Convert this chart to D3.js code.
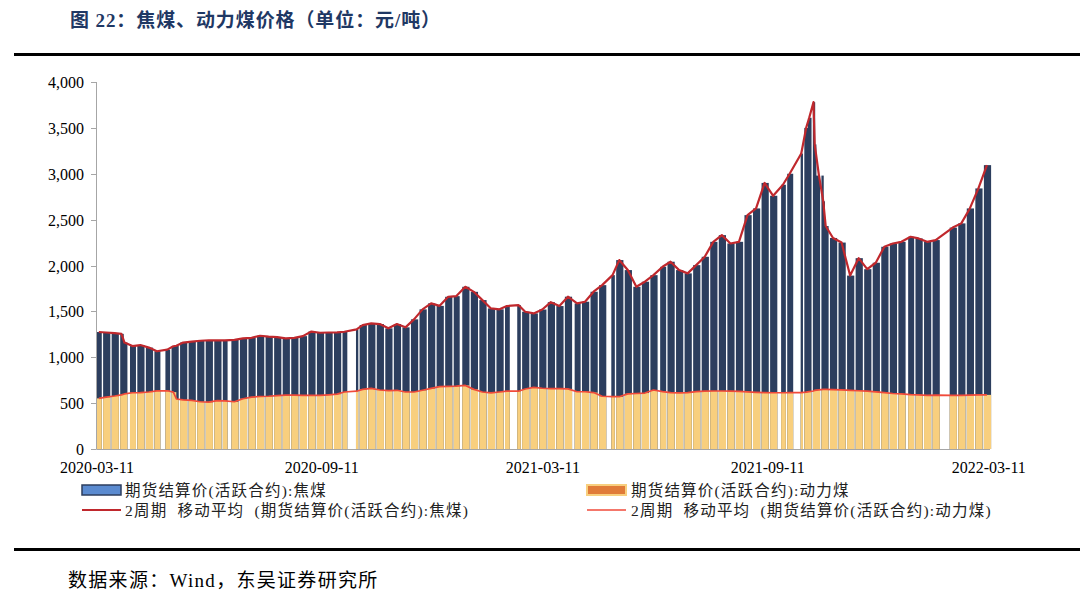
<!DOCTYPE html>
<html>
<head>
<meta charset="utf-8">
<script src="https://cdn.jsdelivr.net/npm/d3@7"></script>
<style>
  body { margin: 0; background: #fff; }
  svg { display: block; }
</style>
</head>
<body>
<svg id="chart" width="1080" height="601"></svg>
<script>
// each period runs from its start date to the day before the next start (trading days only)
const periodStart = [
  "2020-03-11","2020-03-16","2020-03-23","2020-03-30","2020-04-01","2020-04-07","2020-04-13","2020-04-20",
  "2020-04-27","2020-05-06","2020-05-11","2020-05-14","2020-05-18","2020-05-25","2020-06-01","2020-06-08",
  "2020-06-15","2020-06-22","2020-06-29","2020-07-06","2020-07-13","2020-07-20","2020-07-27","2020-08-03",
  "2020-08-10","2020-08-17","2020-08-24","2020-08-31","2020-09-07","2020-09-14","2020-09-21","2020-09-28",
  "2020-10-09","2020-10-12","2020-10-19","2020-10-26","2020-11-02","2020-11-09","2020-11-16","2020-11-23",
  "2020-11-30","2020-12-07","2020-12-14","2020-12-21","2020-12-28","2021-01-04","2021-01-11","2021-01-18",
  "2021-01-25","2021-02-01","2021-02-08","2021-02-18","2021-02-22","2021-03-01","2021-03-08","2021-03-15",
  "2021-03-22","2021-03-29","2021-04-06","2021-04-12","2021-04-19","2021-04-26","2021-05-06","2021-05-10",
  "2021-05-17","2021-05-24","2021-05-31","2021-06-07","2021-06-15","2021-06-21","2021-06-28","2021-07-05",
  "2021-07-12","2021-07-19","2021-07-26","2021-08-02","2021-08-09","2021-08-16","2021-08-23","2021-08-30",
  "2021-09-06","2021-09-13","2021-09-22","2021-09-27","2021-10-08","2021-10-11","2021-10-14","2021-10-18",
  "2021-10-19","2021-10-20","2021-10-26","2021-10-27","2021-11-01","2021-11-08","2021-11-15","2021-11-22",
  "2021-11-29","2021-12-06","2021-12-13","2021-12-20","2021-12-27","2022-01-04","2022-01-10","2022-01-17",
  "2022-01-24","2022-02-07","2022-02-14","2022-02-21","2022-02-28","2022-03-07"
];
const lastDay = "2022-03-11";

// 期货结算价(活跃合约):焦煤
const coke = [
  1275,1270,1262,1255,1160,1122,1133,1105, 1065,1083,1120,1125,1160,1170,1180,1185,
  1183,1185,1190,1205,1212,1234,1224,1220, 1205,1212,1230,1280,1267,1270,1272,1278,
  1304,1351,1369,1362,1315,1362,1326,1413, 1522,1587,1560,1659,1666,1768,1713,1623,
  1532,1522,1558,1569,1496,1478,1520,1600, 1558,1660,1587,1605,1714,1786,1895,2059,
  1950,1768,1823,1895,1986,2041,1950,1914, 2004,2095,2258,2331,2240,2258,2549,2622,
  2900,2760,2880,3000,3220,3500,3610,3780, 3320,2980,2700,2430,2300,2250,1890,2080,
  1960,2030,2204,2240,2258,2313,2295,2258, 2277,2413,2459,2622,2840,3094
];

// 期货结算价(活跃合约):动力煤
const thermal = [
  552,565,578,590,600,613,615,621, 633,635,620,545,535,530,515,510,
  528,525,515,548,565,572,575,582, 588,588,584,586,584,590,598,621,
  630,650,661,643,636,640,621,621, 640,660,679,683,686,693,650,621,
  612,621,630,630,654,672,662,659, 659,655,624,624,615,575,570,570,
  601,605,610,643,625,615,612,615, 625,630,632,632,630,628,622,618,
  615,613,613,615,615,620,625,632, 640,645,650,650,648,645,640,635,
  630,622,615,605,600,592,590,585, 588,585,585,588,590,590
];

// exchange closed
const holidays = [
  ["2020-04-06","2020-04-06"], ["2020-05-01","2020-05-05"], ["2020-06-25","2020-06-26"],
  ["2020-10-01","2020-10-08"], ["2021-01-01","2021-01-01"], ["2021-02-11","2021-02-17"],
  ["2021-04-05","2021-04-05"], ["2021-05-03","2021-05-05"], ["2021-06-14","2021-06-14"],
  ["2021-09-20","2021-09-21"], ["2021-10-01","2021-10-07"], ["2022-01-03","2022-01-03"],
  ["2022-01-31","2022-02-04"]
];

const yTicks = [0, 500, 1000, 1500, 2000, 2500, 3000, 3500, 4000];
const xTicks = ["2020-03-11", "2020-09-11", "2021-03-11", "2021-09-11", "2022-03-11"];

const svg = d3.select("#chart");
const parse = d3.utcParse("%Y-%m-%d");
const fmt = d3.utcFormat("%Y-%m-%d");

const margin = {left: 97, right: 990, top: 82, bottom: 449};

const x = d3.scaleUtc()
  .domain([parse(periodStart[0]), d3.utcDay.offset(parse(lastDay), 1)])
  .range([margin.left, margin.right]);

const y = d3.scaleLinear()
  .domain([0, 4000])
  .range([margin.bottom, margin.top]);

function isTrading(d) {
  const wd = d.getUTCDay();
  if (wd === 0 || wd === 6) return false;
  const s = fmt(d);
  return !holidays.some(h => s >= h[0] && s <= h[1]);
}

// split every period into runs of consecutive trading days
const periods = periodStart.map(function(s, i) {
  const from = parse(s);
  const to = i + 1 < periodStart.length ? parse(periodStart[i + 1]) : d3.utcDay.offset(parse(lastDay), 1);
  const days = d3.utcDay.range(from, to).filter(isTrading);
  const runs = [];
  days.forEach(function(d) {
    const cur = runs[runs.length - 1];
    if (cur && +d3.utcDay.offset(cur[cur.length - 1], 1) === +d) cur.push(d);
    else runs.push([d]);
  });
  const x0 = x(days[0]);
  const x1 = x(d3.utcDay.offset(days[days.length - 1], 1));
  return {runs: runs, mid: (x0 + x1) / 2, coke: coke[i], thermal: thermal[i]};
});

const segs = [];
periods.forEach(p => p.runs.forEach(r => segs.push({run: r, coke: p.coke, thermal: p.thermal})));

const overlap = 1.1;

// 焦煤 bars
svg.append("g").selectAll("rect")
  .data(segs)
  .join("rect")
  .attr("x", d => x(d.run[0]))
  .attr("width", d => x(d3.utcDay.offset(d.run[d.run.length - 1], 1)) - x(d.run[0]) + overlap)
  .attr("y", d => y(d.coke))
  .attr("height", d => y(0) - y(d.coke))
  .attr("fill", "#2c3e5e");

// 动力煤 bars in front
svg.append("g").selectAll("rect")
  .data(segs)
  .join("rect")
  .attr("x", d => x(d.run[0]))
  .attr("width", d => x(d3.utcDay.offset(d.run[d.run.length - 1], 1)) - x(d.run[0]) + overlap)
  .attr("y", d => y(d.thermal))
  .attr("height", d => y(0) - y(d.thermal))
  .attr("fill", "#f8cf7e");

// 2周期移动平均
const lineCoke = d3.line().x(d => d.mid).y(d => y(d.coke));
const lineThermal = d3.line().x(d => d.mid).y(d => y(d.thermal));

svg.append("path")
  .datum(periods)
  .attr("d", lineCoke)
  .attr("fill", "none")
  .attr("stroke", "#c0282d")
  .attr("stroke-width", 2.2)
  .attr("stroke-linejoin", "round");

svg.append("path")
  .datum(periods)
  .attr("d", lineThermal)
  .attr("fill", "none")
  .attr("stroke", "#f04a3a")
  .attr("stroke-width", 1.7)
  .attr("stroke-linejoin", "round");

// axes
const axisColor = "#a6a6a6";
const serif = "'Liberation Serif', 'Times New Roman', serif";

svg.append("line")
  .attr("x1", margin.left - 0.5).attr("x2", margin.left - 0.5)
  .attr("y1", y(4000)).attr("y2", y(0))
  .attr("stroke", axisColor);

svg.append("line")
  .attr("x1", margin.left - 0.5).attr("x2", margin.right)
  .attr("y1", y(0) + 0.5).attr("y2", y(0) + 0.5)
  .attr("stroke", axisColor);

const yg = svg.append("g").selectAll("g")
  .data(yTicks)
  .join("g")
  .attr("transform", d => `translate(0,${Math.round(y(d)) + 0.5})`);

yg.append("line")
  .attr("x1", margin.left - 6).attr("x2", margin.left - 0.5)
  .attr("stroke", axisColor);

yg.append("text")
  .attr("x", 84)
  .attr("dy", "0.35em")
  .attr("text-anchor", "end")
  .attr("font-family", serif)
  .attr("font-size", 16)
  .attr("fill", "#000")
  .text(d3.format(","));

svg.append("g").selectAll("text")
  .data(xTicks)
  .join("text")
  .attr("x", d => x(parse(d)))
  .attr("y", 473)
  .attr("text-anchor", "middle")
  .attr("font-family", serif)
  .attr("font-size", 16)
  .attr("fill", "#000")
  .text(d => d);

// legend
const cjk = "'Liberation Serif', 'Noto Sans CJK SC', sans-serif";
const legend = svg.append("g")
  .attr("font-family", cjk)
  .attr("font-size", 15.5)
  .attr("letter-spacing", 1.2)
  .attr("fill", "#222");

legend.append("rect")
  .attr("x", 82).attr("y", 485).attr("width", 39).attr("height", 10)
  .attr("fill", "#5b8bd0").attr("stroke", "#2c3e5e").attr("stroke-width", 1.5);
legend.append("text").attr("x", 125).attr("y", 496)
  .text("期货结算价(活跃合约):焦煤");

legend.append("line")
  .attr("x1", 82).attr("x2", 121).attr("y1", 510).attr("y2", 510)
  .attr("stroke", "#c0282d").attr("stroke-width", 2);
legend.append("text").attr("x", 125).attr("y", 516)
  .attr("xml:space", "preserve")
  .text("2周期  移动平均  (期货结算价(活跃合约):焦煤)");

legend.append("rect")
  .attr("x", 587).attr("y", 485).attr("width", 39).attr("height", 10)
  .attr("fill", "#e07b39").attr("stroke", "#f8cf7e").attr("stroke-width", 2);
legend.append("text").attr("x", 631).attr("y", 496)
  .text("期货结算价(活跃合约):动力煤");

legend.append("line")
  .attr("x1", 587).attr("x2", 626).attr("y1", 510).attr("y2", 510)
  .attr("stroke", "#f04a3a").attr("stroke-width", 1.7);
legend.append("text").attr("x", 631).attr("y", 516)
  .attr("xml:space", "preserve")
  .text("2周期  移动平均  (期货结算价(活跃合约):动力煤)");

// title, rules, source
svg.append("text")
  .attr("x", 70).attr("y", 27)
  .attr("font-family", cjk)
  .attr("font-size", 19)
  .attr("font-weight", "bold")
  .attr("letter-spacing", 0.9)
  .attr("fill", "#1f3864")
  .attr("xml:space", "preserve")
  .text("图 22：焦煤、动力煤价格（单位：元/吨）");

svg.append("rect").attr("x", 14).attr("y", 53).attr("width", 1066).attr("height", 3).attr("fill", "#000");
svg.append("rect").attr("x", 14).attr("y", 548).attr("width", 1066).attr("height", 3).attr("fill", "#000");

svg.append("text")
  .attr("x", 68).attr("y", 587)
  .attr("font-family", cjk)
  .attr("font-size", 19)
  .attr("letter-spacing", 1.3)
  .attr("fill", "#000")
  .text("数据来源：Wind，东吴证券研究所");
</script>
</body>
</html>
